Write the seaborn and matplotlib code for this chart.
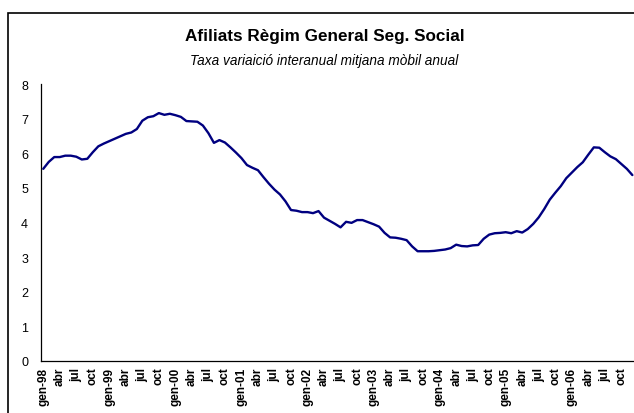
import matplotlib
matplotlib.use("Agg")
import matplotlib.pyplot as plt
from matplotlib.patches import Rectangle
import seaborn as sns
import pandas as pd

# monthly values, gen-1998 .. des-2006
years = [1998, 1999, 2000, 2001, 2002, 2003, 2004, 2005, 2006]
months = ["gen", "feb", "mar", "abr", "maig", "jun", "jul", "ag", "set", "oct", "nov", "des"]
taxa = [
    5.55, 5.75, 5.89, 5.89, 5.93, 5.93, 5.90, 5.82, 5.84, 6.03, 6.20, 6.28,
    6.35, 6.42, 6.49, 6.56, 6.60, 6.70, 6.94, 7.04, 7.07, 7.16, 7.11, 7.14,
    7.10, 7.05, 6.93, 6.92, 6.91, 6.80, 6.58, 6.30, 6.38, 6.31, 6.17, 6.02,
    5.86, 5.66, 5.58, 5.51, 5.31, 5.12, 4.95, 4.81, 4.61, 4.36, 4.34, 4.30,
    4.30, 4.27, 4.33, 4.14, 4.05, 3.96, 3.86, 4.02, 3.99, 4.07, 4.07, 4.01,
    3.95, 3.88, 3.70, 3.57, 3.56, 3.53, 3.49, 3.31, 3.17, 3.17, 3.17, 3.18,
    3.20, 3.22, 3.26, 3.36, 3.32, 3.31, 3.34, 3.35, 3.53, 3.65, 3.69, 3.70,
    3.72, 3.69, 3.75, 3.71, 3.81, 3.96, 4.15, 4.39, 4.66, 4.86, 5.05, 5.28,
    5.44, 5.60, 5.74, 5.96, 6.17, 6.16, 6.03, 5.91, 5.83, 5.69, 5.55, 5.37,
]
yticks = [0, 1, 2, 3, 4, 5, 6, 7, 8]

# tick labels: only every third month is labelled
labels = []
for y in years:
    for m in months:
        if m == "gen":
            labels.append(f"gen-{str(y)[2:]}")
        elif m in ("abr", "jul", "oct"):
            labels.append(m)
        else:
            labels.append("")

df = pd.DataFrame({"idx": range(len(taxa)), "taxa": taxa})

sns.set_style("white")
plt.rcParams["font.family"] = ["Liberation Sans", "DejaVu Sans"]
plt.rcParams["text.color"] = "black"

fig = plt.figure(figsize=(6.34, 4.14), dpi=100)
ax = fig.add_axes([40.5 / 634, 52 / 414, 1 - 40.5 / 634, 277 / 414])

sns.lineplot(data=df, x="idx", y="taxa", color="#000080", linewidth=1.7, ax=ax)

ax.set_xlim(-0.5, 107.3)
ax.set_ylim(0, 8)
ax.set_yticks(yticks)
ax.set_xticks(range(len(taxa)))
ax.set_xticklabels(labels, rotation=90, fontsize=8.5, fontweight="heavy", va="top")
ax.tick_params(axis="x", direction="out", length=3, width=0.8, pad=1,
               colors="black", labelcolor="black")
ax.tick_params(axis="y", direction="out", length=4, width=0.8, pad=5, labelsize=9,
               colors="black", labelcolor="black")
ax.set_xlabel("")
ax.set_ylabel("")
for s in ["top", "right"]:
    ax.spines[s].set_visible(False)
for s in ["left", "bottom"]:
    ax.spines[s].set_color("black")
    ax.spines[s].set_linewidth(0.9)

# chart frame
fig.patches.append(Rectangle((7.5 / 634, -0.05), 1.2, (414 - 13.5) / 414 + 0.05,
                             transform=fig.transFigure, fill=False,
                             edgecolor="black", linewidth=1.2))

fig.text(0.513, (414 - 37) / 414, "Afiliats Règim General Seg. Social",
         ha="center", va="center", fontsize=12.3, fontweight="bold", color="black")
fig.text(0.511, (414 - 61) / 414, "Taxa variaició interanual mitjana mòbil anual",
         ha="center", va="center", fontsize=9.8, fontstyle="italic", color="black")

fig.savefig("out.png", dpi=100)
